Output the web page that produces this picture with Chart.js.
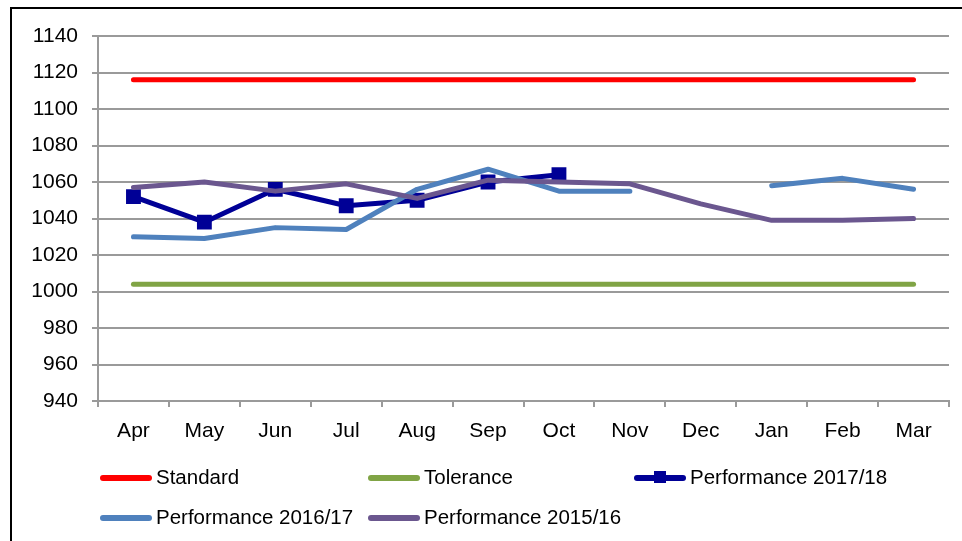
<!DOCTYPE html>
<html lang="en">
<head>
<meta charset="UTF-8">
<title>Performance chart</title>
<script src="https://cdn.jsdelivr.net/npm/chart.js"></script>
<style>
  html, body { margin: 0; padding: 0; background: #fff; }
  body { width: 962px; height: 541px; position: relative; overflow: hidden; font-family: "Liberation Sans", Arial, sans-serif; }
  #frame { position: absolute; left: 10px; top: 7px; right: -5px; bottom: -5px; border-left: 2px solid #000; border-top: 2px solid #000; }
  #wrap { position: absolute; left: 0; top: 0; width: 962px; height: 541px; }
  .leg { position: absolute; font-size: 20.5px; color: #000; white-space: nowrap; line-height: 24px; }
  .leg i { display: inline-block; width: 52px; height: 6px; border-radius: 3px; vertical-align: middle; margin-right: 4px; position: relative; top: -1px; }
  .leg b { position: absolute; left: 20px; top: 6px; width: 12px; height: 12px; }
</style>
</head>
<body>
<div id="frame"></div>
<div id="wrap"><canvas id="myChart" width="962" height="541"></canvas></div>
<div id="legend"></div>
<script>
  // data
  let months = ['Apr', 'May', 'Jun', 'Jul', 'Aug', 'Sep', 'Oct', 'Nov', 'Dec', 'Jan', 'Feb', 'Mar'];
  let standard = [1116, 1116, 1116, 1116, 1116, 1116, 1116, 1116, 1116, 1116, 1116, 1116];
  let tolerance = [1004, 1004, 1004, 1004, 1004, 1004, 1004, 1004, 1004, 1004, 1004, 1004];
  let perf1718 = [1052, 1038, 1056, 1047, 1050, 1060, 1064, null, null, null, null, null];
  let perf1617 = [1030, 1029, 1035, 1034, 1056, 1067, 1055, 1055, null, 1058, 1062, 1056];
  let perf1516 = [1057, 1060, 1055, 1059, 1051, 1061, 1060, 1059, 1048, 1039, 1039, 1040];
  let yTicks = [940, 960, 980, 1000, 1020, 1040, 1060, 1080, 1100, 1120, 1140];

  let colors = {
    standard: '#ff0000',
    tolerance: '#80a445',
    p1718: '#000096',
    p1617: '#4f81bd',
    p1516: '#6b578f'
  };

  function line(label, data, color, order, extra) {
    return Object.assign({
      label: label,
      data: data,
      borderColor: color,
      backgroundColor: color,
      borderWidth: 5,
      borderCapStyle: 'round',
      borderJoinStyle: 'round',
      pointRadius: 0,
      tension: 0,
      spanGaps: false,
      order: order
    }, extra || {});
  }

  let gridColor = '#9a9a9a';

  new Chart(document.getElementById('myChart').getContext('2d'), {
    type: 'line',
    data: {
      labels: months,
      datasets: [
        line('Standard', standard, colors.standard, 5),
        line('Tolerance', tolerance, colors.tolerance, 4),
        line('Performance 2017/18', perf1718, colors.p1718, 3, { pointStyle: 'rect', pointRadius: 10.5, pointBorderWidth: 0 }),
        line('Performance 2016/17', perf1617, colors.p1617, 2),
        line('Performance 2015/16', perf1516, colors.p1516, 1)
      ]
    },
    options: {
      responsive: false,
      animation: false,
      layout: { padding: { top: 36, right: 13, left: 0, bottom: 0 } },
      plugins: { legend: { display: false }, tooltip: { enabled: false } },
      scales: {
        x: {
          offset: true,
          grid: { offset: true, drawOnChartArea: false, drawTicks: true, tickLength: 6, color: gridColor, lineWidth: 2 },
          border: { color: gridColor, width: 2 },
          ticks: { color: '#000', padding: 12, font: { family: 'Liberation Sans', size: 21 } },
          afterFit: function(scale) { scale.height = 140; }
        },
        y: {
          min: 940,
          max: 1140,
          afterBuildTicks: function(scale) { scale.ticks = yTicks.map(v => ({ value: v })); },
          grid: { color: gridColor, lineWidth: 2, tickLength: 6 },
          border: { color: gridColor, width: 2 },
          ticks: {
            color: '#000',
            padding: 14,
            font: { family: 'Liberation Sans', size: 21 },
            callback: function(value) { return String(value); }
          },
          afterFit: function(scale) { scale.width = 98; }
        }
      }
    }
  });

  // legend laid out like the original
  let legendItems = [
    { text: 'Standard', color: colors.standard, x: 100, y: 465 },
    { text: 'Tolerance', color: colors.tolerance, x: 368, y: 465 },
    { text: 'Performance 2017/18', color: colors.p1718, x: 634, y: 465, marker: true },
    { text: 'Performance 2016/17', color: colors.p1617, x: 100, y: 505 },
    { text: 'Performance 2015/16', color: colors.p1516, x: 368, y: 505 }
  ];
  let legend = document.getElementById('legend');
  legendItems.forEach(item => {
    let div = document.createElement('div');
    div.className = 'leg';
    div.style.left = item.x + 'px';
    div.style.top = item.y + 'px';
    let sw = document.createElement('i');
    sw.style.background = item.color;
    div.appendChild(sw);
    if (item.marker) {
      let m = document.createElement('b');
      m.style.background = item.color;
      div.appendChild(m);
    }
    div.appendChild(document.createTextNode(item.text));
    legend.appendChild(div);
  });
</script>
</body>
</html>
